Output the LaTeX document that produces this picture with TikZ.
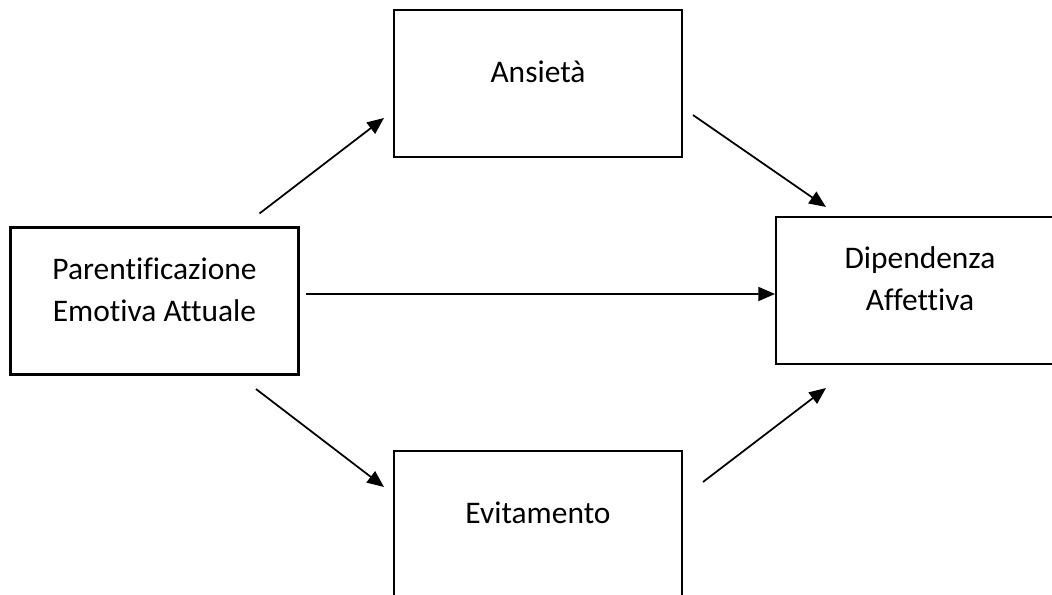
\documentclass[tikz,border=0pt]{standalone}
\usepackage{fontspec}
\setmainfont{Carlito}[Ligatures=NoCommon]
\usetikzlibrary{arrows.meta}
\tikzset{
	box/.style={draw,rectangle,line width=1.2pt,minimum width=5.76cm,minimum height=2.94cm,inner sep=0pt},
	txt/.style={align=center,font=\fontsize{17.9}{24}\selectfont,yshift=0.23cm},
	->/.style={-{Triangle[length=9.5pt,width=8pt]},line width=1pt}
}
\begin{document}
\begin{tikzpicture}[x=0.02cm,y=-0.02cm]
	\useasboundingbox (0,0) rectangle (1052,595);
	\node[box,label={[txt]center:Parentificazione\\Emotiva Attuale}] (par) at (154.5,301) {};
	\node[box,label={[txt]center:Ansietà}] (ans) at (538,83.5) {};
	\node[box,label={[txt]center:Dipendenza\\Affettiva}] (dip) at (920,290.5) {};
	\node[box,label={[txt]center:Evitamento}] (evi) at (538,524.5) {};
	\draw[->] ([shift={(-40,-13)}]par.north east) -- ([shift={(-9,-40)}]ans.south west);
	\draw[->] ([shift={(10,-43)}]ans.south east) -- ([shift={(51,-9)}]dip.north west);
	\draw[->] ([shift={(6.5,-7)}]par.east) -- ([shift={(0,3.5)}]dip.west);
	\draw[->] ([shift={(-43.5,13.5)}]par.south east) -- ([shift={(-9,37)}]evi.north west);
	\draw[->] ([shift={(20,32)}]evi.north east) -- ([shift={(51,23)}]dip.south west);
\end{tikzpicture}
\end{document}
